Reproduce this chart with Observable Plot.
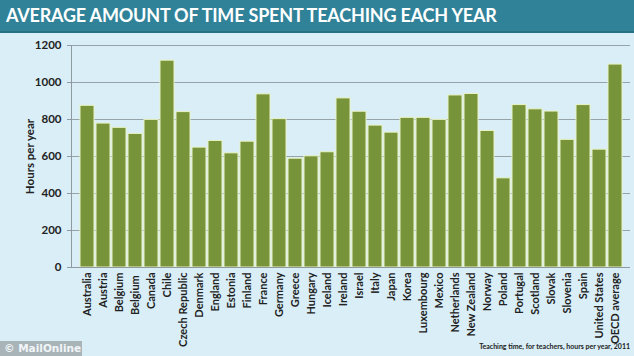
<!DOCTYPE html>
<html><head><meta charset="utf-8">
<script src="https://cdn.jsdelivr.net/npm/d3@7"></script>
<script src="https://cdn.jsdelivr.net/npm/@observablehq/plot@0.6"></script>
<style>
body{margin:0;background:#d9eef6;width:634px;height:356px;overflow:hidden;position:relative;font-family:Lato,"Open Sans",sans-serif;}
#title{height:31px;background:#2f8298;border-bottom:2px solid #276f82;color:#fff;font-weight:700;font-size:18px;line-height:31px;padding-left:6px;white-space:nowrap;letter-spacing:-0.2px;}
#chart{position:absolute;left:0;top:33px;}
#logo{position:absolute;left:0;top:341px;width:82px;height:15px;background:#a9b4b8;color:#f2f6f8;font-family:"DejaVu Sans",sans-serif;font-size:10.5px;line-height:15px;padding-left:4px;box-sizing:border-box;font-weight:700;}
#caption{position:absolute;right:4px;top:342px;font-size:7px;font-weight:700;color:#222;}
</style></head><body>
<div id="title">AVERAGE AMOUNT OF TIME SPENT TEACHING EACH YEAR</div>
<div id="chart"></div>
<div id="logo">© MailOnline</div>
<div id="caption">Teaching time, for teachers, hours per year, 2011</div>
<script>
const countries = ["Australia","Austria","Belgium","Belgium ","Canada","Chile","Czech Republic","Denmark","England","Estonia","Finland","France","Germany","Greece","Hungary","Iceland","Ireland","Israel","Italy","Japan","Korea","Luxembourg","Mexico","Netherlands","New Zealand","Norway","Poland","Portugal","Scotland","Slovak","Slovenia","Spain","United States","OECD average"];
const hours = [874,778,755,722,798,1118,840,648,684,617,680,936,802,588,601,623,914,842,767,729,809,809,798,930,938,738,482,878,855,843,690,878,637,1097];
const yTicks = [0,200,400,600,800,1000,1200];
const data = countries.map((c,i)=>({country:c,hours:hours[i]}));
const chart = Plot.plot({
  width:634, height:323,
  marginLeft:71, marginRight:4, marginTop:12, marginBottom:89,
  style:{background:"transparent",fontFamily:"Lato, sans-serif",fontSize:"11px",color:"#222"},
  x:{domain:countries, padding:0.13, label:null},
  y:{domain:[0,1200], label:null},
  marks:[
    Plot.gridY(yTicks.slice(1),{stroke:"#8e9aa0",strokeOpacity:0.9,strokeWidth:1}),
    Plot.frame({anchor:"left",stroke:"#8e9aa0"}),
    Plot.barY(data,{x:"country",y:"hours",fill:"#78943a",stroke:"#e9f3c4",strokeWidth:1}),
    Plot.ruleY([0],{stroke:"#8e9aa0"}),
    Plot.axisX({tickRotate:-90,tickSize:0,tickPadding:5,fontWeight:700,fill:"#222",fontSize:11}),
    Plot.axisY({ticks:yTicks,tickSize:4,tickPadding:6,fontWeight:700,fill:"#222",stroke:"#8e9aa0",fontSize:11.5,tickFormat:d=>String(d)}),
    Plot.text(["Hours per year"],{frameAnchor:"left",dx:-41,rotate:-90,textAnchor:"middle",fontSize:11.5,fontWeight:700,fill:"#222"})
  ]
});
document.getElementById("chart").appendChild(chart);
</script>
</body></html>
